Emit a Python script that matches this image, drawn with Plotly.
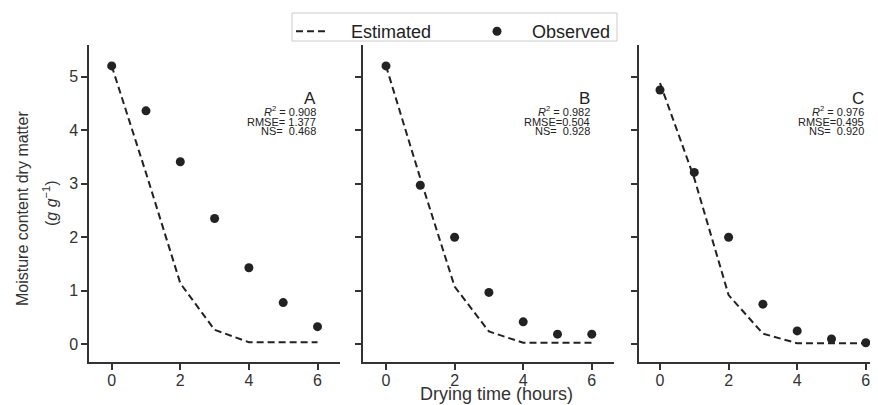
import plotly.graph_objects as go

hours = [0, 1, 2, 3, 4, 5, 6]

obs_A = [5.2, 4.36, 3.41, 2.35, 1.43, 0.78, 0.33]
est_A = [5.2, 3.2, 1.14, 0.27, 0.04, 0.04, 0.04]
obs_B = [5.2, 2.97, 2.0, 0.97, 0.42, 0.19, 0.19]
est_B = [5.2, 3.1, 1.08, 0.24, 0.03, 0.03, 0.03]
obs_C = [4.75, 3.21, 2.0, 0.75, 0.25, 0.1, 0.03]
est_C = [4.88, 3.1, 0.92, 0.2, 0.02, 0.02, 0.02]

panel_labels = ["A", "B", "C"]
r2_vals = ["0.908", "0.982", "0.976"]
rmse_vals = ["1.377", "0.504", "0.495"]
ns_vals = ["0.468", "0.928", "0.920"]

x_ticks = [0, 2, 4, 6]
y_ticks = [0, 1, 2, 3, 4, 5]

# page has an 8px body margin; figure is offset by it
OFF = 8
W, H = 870, 397
INK = "#222222"
AX = "#333333"
FONT = "Liberation Sans, Arial, sans-serif"
nb = "\u00a0"


def px(x):
    return (x - OFF) / W


def py(y):
    return 1 - (y - OFF) / H


fig = go.Figure()

series = [(obs_A, est_A), (obs_B, est_B), (obs_C, est_C)]
for i, (obs, est) in enumerate(series):
    xa = "x" if i == 0 else f"x{i+1}"
    ya = "y" if i == 0 else f"y{i+1}"
    fig.add_trace(go.Scatter(x=hours, y=est, mode="lines", name=nb * 4 + "Estimated",
                             line=dict(color=INK, width=2, dash="7px,4px"),
                             xaxis=xa, yaxis=ya, showlegend=(i == 0), legend="legend"))
    fig.add_trace(go.Scatter(x=hours, y=obs, mode="markers", name=nb * 3 + "Observed",
                             marker=dict(color=INK, size=9),
                             xaxis=xa, yaxis=ya, showlegend=(i == 0), legend="legend2"))

# pixel layout (page coordinates)
x_domains_px = [(89, 340), (363, 614), (639, 878)]
zero_px = [111.7, 386, 660]
unit = 34.3
y_dom = [py(362), py(45)]
y_range = [-0.33, 5.59]

layout = dict(
    width=W, height=H,
    margin=dict(l=0, r=0, t=0, b=0),
    paper_bgcolor="white", plot_bgcolor="white",
    font=dict(family=FONT, size=16, color=INK),
    showlegend=True,
    legend=dict(orientation="h", x=px(291), xanchor="left", y=py(13), yanchor="top",
                bgcolor="rgba(0,0,0,0)", borderwidth=0, font=dict(size=18, color=INK)),
    legend2=dict(orientation="h", x=px(477), xanchor="left", y=py(13), yanchor="top",
                 bgcolor="rgba(0,0,0,0)", borderwidth=0, font=dict(size=18, color=INK)),
)

for i in range(3):
    xk = "xaxis" if i == 0 else f"xaxis{i+1}"
    yk = "yaxis" if i == 0 else f"yaxis{i+1}"
    a, b = x_domains_px[i]
    left = (a - zero_px[i]) / unit
    right = (b - zero_px[i]) / unit
    layout[xk] = dict(domain=[px(a), min(px(b), 1.0)], range=[left, right], tickvals=x_ticks,
                      showline=True, linecolor=AX, linewidth=1.5, ticks="outside",
                      ticklen=6, tickwidth=1.5, tickcolor=AX, showgrid=False, zeroline=False,
                      tickfont=dict(size=16, color="#333333"), ticklabelstandoff=-3,
                      anchor="y" if i == 0 else f"y{i+1}")
    layout[yk] = dict(domain=y_dom, range=y_range, tickvals=y_ticks,
                      showline=True, linecolor=AX, linewidth=1.5, ticks="outside",
                      ticklen=6, tickwidth=1.5, tickcolor=AX, showgrid=False, zeroline=False,
                      showticklabels=(i == 0), tickfont=dict(size=16, color="#333333"),
                      anchor="x" if i == 0 else f"x{i+1}")

fig.update_layout(**layout)

# legend frame
fig.add_shape(type="rect", xref="paper", yref="paper",
              x0=px(292), x1=px(617), y0=py(41), y1=py(13),
              line=dict(color="#cccccc", width=1), fillcolor="rgba(0,0,0,0)")

for i in range(3):
    xr = "x" if i == 0 else f"x{i+1}"
    yr = "y" if i == 0 else f"y{i+1}"
    fig.add_annotation(x=6.02, y=4.6, xref=xr, yref=yr, text=panel_labels[i], showarrow=False,
                       xanchor="right", yanchor="middle", font=dict(size=17, color=INK))
    lines = [f"<i>R</i><sup>2</sup> = {r2_vals[i]}",
             f"RMSE={nb if i == 0 else ''}{rmse_vals[i]}",
             f"NS={nb}{nb}{ns_vals[i]}"]
    for txt, yv in zip(lines, [4.36, 4.16, 3.99]):
        fig.add_annotation(x=6.02, y=yv, xref=xr, yref=yr, text=txt, showarrow=False,
                           xanchor="right", yanchor="middle", font=dict(size=11, color=INK))

fig.add_annotation(x=px(22), y=py(209), xref="paper", yref="paper",
                   text="Moisture content dry matter", textangle=-90, showarrow=False,
                   xanchor="center", yanchor="middle", font=dict(size=16, color="#333333"))
fig.add_annotation(x=px(50), y=py(203), xref="paper", yref="paper",
                   text="(<i>g g</i><sup>−1</sup>)", textangle=-90, showarrow=False,
                   xanchor="center", yanchor="middle", font=dict(size=16, color="#333333"))
fig.add_annotation(x=px(496), y=py(394), xref="paper", yref="paper",
                   text="Drying time (hours)", showarrow=False,
                   xanchor="center", yanchor="middle", font=dict(size=18, color="#333333"))

fig.write_html("out.html")
